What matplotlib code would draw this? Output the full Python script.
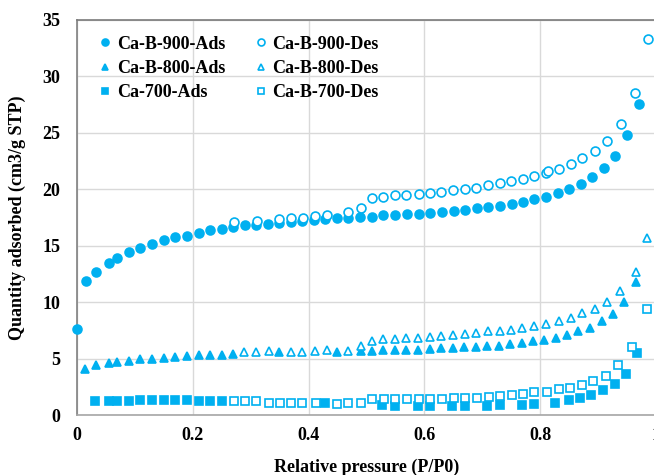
import matplotlib
matplotlib.use("Agg")
import matplotlib.pyplot as plt
from matplotlib.lines import Line2D

# ---------------- data ----------------
ads900_p = [0.0, 0.016, 0.032, 0.055, 0.069, 0.089, 0.109, 0.130, 0.150, 0.170, 0.190, 0.210, 0.230, 0.250,
            0.269, 0.290, 0.309, 0.330, 0.349, 0.369, 0.389, 0.409, 0.429, 0.449, 0.468, 0.489, 0.510, 0.529,
            0.549, 0.570, 0.590, 0.610, 0.630, 0.651, 0.670, 0.690, 0.710, 0.731, 0.751, 0.771, 0.789, 0.810,
            0.830, 0.850, 0.870, 0.890, 0.910, 0.930, 0.950, 0.970]
ads900_v = [7.65, 11.9, 12.7, 13.5, 13.9, 14.4, 14.8, 15.15, 15.5, 15.75, 15.9, 16.15, 16.35, 16.5,
            16.65, 16.8, 16.85, 16.95, 17.05, 17.1, 17.2, 17.25, 17.35, 17.45, 17.5, 17.55, 17.55, 17.7,
            17.7, 17.8, 17.85, 17.9, 18.0, 18.05, 18.2, 18.3, 18.4, 18.55, 18.7, 18.9, 19.1, 19.35,
            19.65, 20.0, 20.45, 21.05, 21.85, 22.95, 24.8, 27.55]

des900_p = [0.271, 0.311, 0.349, 0.369, 0.390, 0.411, 0.431, 0.468, 0.490, 0.510, 0.529, 0.549, 0.569, 0.590,
            0.610, 0.629, 0.650, 0.670, 0.689, 0.709, 0.730, 0.750, 0.770, 0.789, 0.810, 0.813, 0.833, 0.853,
            0.873, 0.895, 0.915, 0.939, 0.964, 0.986]
des900_v = [17.1, 17.2, 17.35, 17.45, 17.5, 17.6, 17.75, 17.95, 18.35, 19.2, 19.35, 19.45, 19.5, 19.55,
            19.65, 19.8, 19.9, 20.0, 20.15, 20.35, 20.55, 20.7, 20.95, 21.2, 21.45, 21.6, 21.8, 22.25,
            22.75, 23.35, 24.25, 25.8, 28.55, 33.3]

ads800_p = [0.014, 0.033, 0.055, 0.069, 0.089, 0.109, 0.129, 0.150, 0.170, 0.190, 0.210, 0.230, 0.250, 0.270,
            0.349, 0.449, 0.491, 0.509, 0.529, 0.549, 0.569, 0.589, 0.609, 0.629, 0.649, 0.669, 0.689, 0.708,
            0.728, 0.748, 0.768, 0.787, 0.807, 0.828, 0.847, 0.866, 0.886, 0.906, 0.926, 0.945, 0.965]
ads800_v = [4.05, 4.45, 4.65, 4.7, 4.8, 4.95, 5.0, 5.05, 5.15, 5.2, 5.3, 5.35, 5.35, 5.4,
            5.55, 5.6, 5.65, 5.7, 5.75, 5.75, 5.8, 5.8, 5.85, 5.9, 5.95, 6.0, 6.05, 6.1,
            6.15, 6.3, 6.4, 6.55, 6.65, 6.85, 7.1, 7.4, 7.75, 8.3, 8.95, 10.0, 11.8]

des800_p = [0.289, 0.310, 0.331, 0.369, 0.389, 0.411, 0.431, 0.468, 0.491, 0.510, 0.529, 0.549, 0.569, 0.589,
            0.610, 0.629, 0.650, 0.670, 0.689, 0.709, 0.730, 0.750, 0.769, 0.789, 0.810, 0.833, 0.853, 0.873,
            0.895, 0.916, 0.938, 0.966, 0.985]
des800_v = [5.55, 5.6, 5.65, 5.6, 5.6, 5.7, 5.8, 5.7, 6.15, 6.6, 6.7, 6.75, 6.85, 6.85,
            6.9, 7.0, 7.05, 7.2, 7.25, 7.4, 7.45, 7.55, 7.75, 7.9, 8.1, 8.35, 8.6, 9.0,
            9.4, 10.05, 11.0, 12.7, 15.7]

ads700_p = [0.031, 0.055, 0.069, 0.089, 0.109, 0.129, 0.150, 0.170, 0.190, 0.210, 0.230, 0.250, 0.428, 0.527,
            0.549, 0.589, 0.609, 0.648, 0.670, 0.708, 0.730, 0.769, 0.789, 0.826, 0.850, 0.869, 0.888, 0.909,
            0.929, 0.948, 0.967]
ads700_v = [1.2, 1.25, 1.25, 1.25, 1.3, 1.3, 1.35, 1.35, 1.35, 1.25, 1.25, 1.25, 1.1, 0.9,
            0.8, 0.8, 0.8, 0.8, 0.8, 0.8, 0.85, 0.9, 0.95, 1.1, 1.35, 1.55, 1.75, 2.2,
            2.75, 3.65, 5.5]

des700_p = [0.271, 0.290, 0.310, 0.331, 0.350, 0.369, 0.389, 0.412, 0.449, 0.468, 0.491, 0.510, 0.530, 0.550,
            0.570, 0.590, 0.610, 0.630, 0.651, 0.670, 0.690, 0.711, 0.731, 0.751, 0.771, 0.790, 0.811, 0.833,
            0.852, 0.872, 0.892, 0.913, 0.934, 0.958, 0.984]
des700_v = [1.2, 1.2, 1.2, 1.1, 1.1, 1.1, 1.05, 1.05, 1.0, 1.05, 1.1, 1.4, 1.45, 1.45,
            1.45, 1.45, 1.45, 1.45, 1.5, 1.5, 1.5, 1.6, 1.65, 1.75, 1.85, 2.0, 2.05, 2.3,
            2.35, 2.7, 3.05, 3.45, 4.4, 6.05, 9.35]

labels = ["Ca-B-900-Ads", "Ca-B-800-Ads", "Ca-700-Ads", "Ca-B-900-Des", "Ca-B-800-Des", "Ca-B-700-Des"]
x_ticks = [0, 0.2, 0.4, 0.6, 0.8, 1]
x_ticklabels = ["0", "0.2", "0.4", "0.6", "0.8", "1"]
y_ticks = [0, 5, 10, 15, 20, 25, 30, 35]

# ---------------- style ----------------
blue = "#00B0F0"
plt.rcParams["font.family"] = ["Liberation Serif", "DejaVu Serif"]
plt.rcParams["font.weight"] = "bold"
fs = 13

W, H = 654, 475
fig = plt.figure(figsize=(W / 100, H / 100), dpi=100)
ax = fig.add_axes([77 / W, 60 / H, 579 / W, 395 / H])
ax.set_xlim(0, 1)
ax.set_ylim(0, 35)

ms = 6.4
series = [
    (ads900_p, ads900_v, "o", True),
    (ads800_p, ads800_v, "^", True),
    (ads700_p, ads700_v, "s", True),
    (des900_p, des900_v, "o", False),
    (des800_p, des800_v, "^", False),
    (des700_p, des700_v, "s", False),
]
handles = []
for (p, v, m, filled), lab in zip(series, labels):
    kw = dict(linestyle="none", marker=m, markersize=ms if m != "s" else ms - 0.4,
              markeredgecolor=blue, markeredgewidth=1.2,
              markerfacecolor=blue if filled else "white", zorder=3 if filled else 4)
    ax.plot(p, v, clip_on=False, **kw)
    handles.append(Line2D([], [], **dict(kw, markersize=kw["markersize"] - 1.4)))

ax.set_xticks(x_ticks)
ax.set_xticklabels(x_ticklabels)
ax.set_yticks(y_ticks)
ax.grid(True, color="#D9D9D9", linewidth=1.0)
ax.set_axisbelow(True)
ax.tick_params(length=0, labelsize=fs)
ax.tick_params(axis="x", pad=9)
ax.tick_params(axis="y", pad=12)
for lbl in ax.get_xticklabels() + ax.get_yticklabels():
    lbl.set_fontweight("bold")

ax.spines["left"].set_color("#808080")
ax.spines["top"].set_color("#7a7a7a")
ax.spines["bottom"].set_color("#A6A6A6")
ax.spines["right"].set_visible(False)
for s in ax.spines.values():
    s.set_linewidth(1.2)

ax.set_xlabel("Relative pressure (P/P0)", fontsize=fs, fontweight="bold", labelpad=10)
ax.set_ylabel("Quantity adsorbed (cm3/g STP)", fontsize=fs, fontweight="bold", labelpad=12)

leg = ax.legend(handles, labels, ncol=2, loc="upper left", bbox_to_anchor=(0.038, 0.96),
                frameon=False, fontsize=fs, handlelength=0.7, handletextpad=0.3,
                columnspacing=1.6, labelspacing=0.4, borderpad=0, borderaxespad=0)
for t in leg.get_texts():
    t.set_fontweight("bold")

fig.savefig("out.png", dpi=100)
